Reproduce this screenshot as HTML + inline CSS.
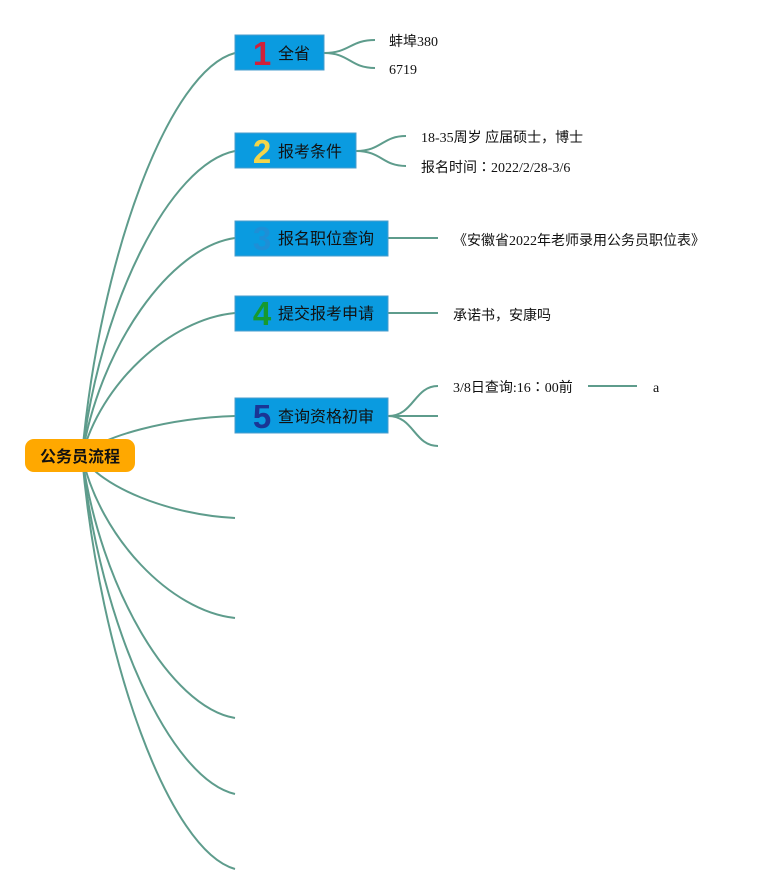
<!DOCTYPE html>
<html>
<head>
<meta charset="utf-8">
<style>
html,body{margin:0;padding:0;background:#fff;}
svg{display:block;}
.t{font-family:"Liberation Serif","Noto Sans CJK SC",serif;font-size:14px;fill:#111;}
.tc{font-family:"Noto Sans CJK TC",sans-serif;}
.bt{font-family:"Liberation Sans","Noto Sans CJK SC",sans-serif;font-size:16px;fill:#111;}
.num{font-family:"Liberation Sans","DejaVu Sans",sans-serif;font-weight:bold;font-size:33px;text-anchor:middle;}
</style>
</head>
<body>
<svg width="765" height="895" viewBox="0 0 765 895" xmlns="http://www.w3.org/2000/svg">
<g fill="none" stroke="#5E9C8C" stroke-width="2">
  <path d="M82,456 C100,254 170,70 235,53"/>
  <path d="M82,456 C100,303 170,164 235,151"/>
  <path d="M82,456 C100,347 170,247 235,238"/>
  <path d="M82,456 C100,384 170,319 235,313"/>
  <path d="M82,456 C100,436 170,418 235,416"/>
  <path d="M82,456 C100,487 170,515 235,518"/>
  <path d="M82,456 C100,537 170,611 235,618"/>
  <path d="M82,456 C100,587 170,707 235,718"/>
  <path d="M82,456 C100,625 170,779 235,794"/>
  <path d="M82,456 C100,662 170,851 235,869"/>
  <path d="M324,53 C350,53 350,40 375,40"/>
  <path d="M324,53 C350,53 350,68 375,68"/>
  <path d="M356,151 C382,151 382,136 406,136"/>
  <path d="M356,151 C382,151 382,166 406,166"/>
  <path d="M388,238 L438,238"/>
  <path d="M388,313 L438,313"/>
  <path d="M388,416 C414,416 414,386 438,386"/>
  <path d="M388,416 L438,416"/>
  <path d="M388,416 C414,416 414,446 438,446"/>
  <path d="M588,386 L637,386"/>
</g>

<rect x="25" y="439" width="110" height="33" rx="9" fill="#FFA800"/>
<text x="80" y="462" text-anchor="middle" style="font-family:'Liberation Sans','Noto Sans CJK SC',sans-serif;font-size:16px;font-weight:bold;fill:#111;">公务员流程</text>

<g stroke="#4a9ccc" stroke-width="1" fill="#0A9BE0">
  <rect x="235" y="35" width="89" height="35"/>
  <rect x="235" y="133" width="121" height="35"/>
  <rect x="235" y="221" width="153" height="35"/>
  <rect x="235" y="296" width="153" height="35"/>
  <rect x="235" y="398" width="153" height="35"/>
</g>

<text class="num" x="262" y="65" fill="#D0213A">1</text>
<text class="num" x="262" y="163" fill="#F3D54A">2</text>
<text class="num" x="262" y="250" fill="#1E8FD6">3</text>
<text class="num" x="262" y="325" fill="#169A30">4</text>
<text class="num" x="262" y="428" fill="#1A3595">5</text>

<text class="bt" x="278" y="59">全省</text>
<text class="bt" x="278" y="157">报考条件</text>
<text class="bt" x="278" y="244">报名职位查询</text>
<text class="bt" x="278" y="319">提交报考申请</text>
<text class="bt" x="278" y="422">查询资格初审</text>

<text class="t" x="389" y="46">蚌埠380</text>
<text class="t" x="389" y="74">6719</text>
<text class="t" x="421" y="142">18-35周岁 应届硕士，博士</text>
<text class="t" x="421" y="172">报名时间<tspan class="tc">：</tspan>2022/2/28-3/6</text>
<text class="t" x="453" y="245">《安徽省2022年老师录用公务员职位表》</text>
<text class="t" x="453" y="320">承诺书，安康吗</text>
<text class="t" x="453" y="392">3/8日查询:16<tspan class="tc">：</tspan>00前</text>
<text class="t" x="653" y="392">a</text>
</svg>
</body>
</html>
